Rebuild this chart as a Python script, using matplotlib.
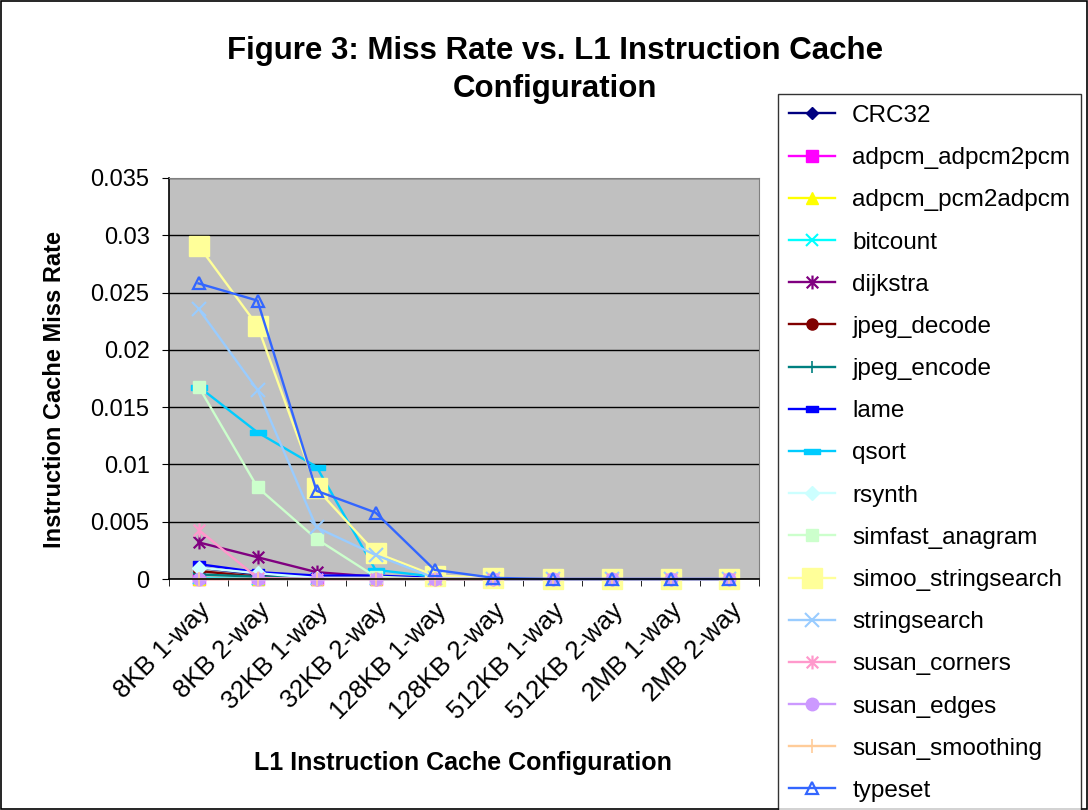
import matplotlib
matplotlib.use("Agg")
import matplotlib.pyplot as plt
from matplotlib.path import Path
from matplotlib.patches import Rectangle
import numpy as np

plt.rcParams['font.family'] = ['Liberation Sans', 'DejaVu Sans']

categories = ["8KB 1-way", "8KB 2-way", "32KB 1-way", "32KB 2-way", "128KB 1-way",
              "128KB 2-way", "512KB 1-way", "512KB 2-way", "2MB 1-way", "2MB 2-way"]

CRC32 = [0.0010, 0.0004, 0.0001, 0.0001, 0.0000, 0, 0, 0, 0, 0]
adpcm_adpcm2pcm = [0.0000, 0.0000, 0.0000, 0.0000, 0.0000, 0, 0, 0, 0, 0]
adpcm_pcm2adpcm = [0.0000, 0.0000, 0.0000, 0.0000, 0.0000, 0, 0, 0, 0, 0]
bitcount = [0.0001, 0.0000, 0.0000, 0.0000, 0.0000, 0, 0, 0, 0, 0]
dijkstra = [0.0032, 0.0019, 0.0006, 0.0002, 0.0000, 0, 0, 0, 0, 0]
jpeg_decode = [0.0007, 0.0002, 0.0001, 0.0001, 0.0000, 0, 0, 0, 0, 0]
jpeg_encode = [0.0004, 0.0002, 0.0001, 0.0000, 0.0000, 0, 0, 0, 0, 0]
lame = [0.0013, 0.0006, 0.0003, 0.0003, 0.0001, 0, 0, 0, 0, 0]
qsort = [0.0168, 0.0128, 0.0098, 0.0008, 0.0002, 0, 0, 0, 0, 0]
rsynth = [0.0010, 0.0005, 0.0001, 0.0001, 0.0000, 0, 0, 0, 0, 0]
simfast_anagram = [0.0168, 0.0080, 0.0035, 0.0002, 0.0000, 0, 0, 0, 0, 0]
simoo_stringsearch = [0.0291, 0.0221, 0.0079, 0.0023, 0.0003, 0.0001, 0, 0, 0, 0]
stringsearch = [0.0236, 0.0165, 0.0045, 0.0021, 0.0001, 0, 0, 0, 0, 0]
susan_corners = [0.0043, 0.0001, 0.0000, 0.0000, 0.0000, 0, 0, 0, 0, 0]
susan_edges = [0.0000, 0.0000, 0.0000, 0.0000, 0.0000, 0, 0, 0, 0, 0]
susan_smoothing = [0.0000, 0.0000, 0.0000, 0.0000, 0.0000, 0, 0, 0, 0, 0]
typeset = [0.0258, 0.0243, 0.0077, 0.0058, 0.0008, 0.0001, 0, 0, 0, 0]

names = ["CRC32", "adpcm_adpcm2pcm", "adpcm_pcm2adpcm", "bitcount", "dijkstra",
         "jpeg_decode", "jpeg_encode", "lame", "qsort", "rsynth", "simfast_anagram",
         "simoo_stringsearch", "stringsearch", "susan_corners", "susan_edges",
         "susan_smoothing", "typeset"]
series = [CRC32, adpcm_adpcm2pcm, adpcm_pcm2adpcm, bitcount, dijkstra, jpeg_decode,
          jpeg_encode, lame, qsort, rsynth, simfast_anagram, simoo_stringsearch,
          stringsearch, susan_corners, susan_edges, susan_smoothing, typeset]

bar_short = Path([(-0.6, -0.3), (0.6, -0.3), (0.6, 0.3), (-0.6, 0.3), (-0.6, -0.3)],
                 [Path.MOVETO, Path.LINETO, Path.LINETO, Path.LINETO, Path.CLOSEPOLY])
bar_long = Path([(-1, -0.3), (1, -0.3), (1, 0.3), (-1, 0.3), (-1, -0.3)],
                [Path.MOVETO, Path.LINETO, Path.LINETO, Path.LINETO, Path.CLOSEPOLY])
asterisk = Path([(-1, -1), (1, 1), (-1, 1), (1, -1), (0, -1.2), (0, 1.2)],
                [Path.MOVETO, Path.LINETO, Path.MOVETO, Path.LINETO, Path.MOVETO, Path.LINETO])

styles = [
    dict(color="#000080", marker="D", ms=6, mfc="#000080"),
    dict(color="#FF00FF", marker="s", ms=8, mfc="#FF00FF"),
    dict(color="#FFFF00", marker="^", ms=8, mfc="#FFFF00"),
    dict(color="#00FFFF", marker="x", ms=8, mew=1.5),
    dict(color="#800080", marker=asterisk, ms=10, mew=1.6),
    dict(color="#800000", marker="o", ms=8, mfc="#800000"),
    dict(color="#008080", marker="+", ms=9, mew=1.2),
    dict(color="#0000FF", marker=bar_short, ms=9, mfc="#0000FF"),
    dict(color="#00CCFF", marker=bar_long, ms=12, mfc="#00CCFF"),
    dict(color="#CCFFFF", marker="D", ms=7, mfc="#CCFFFF"),
    dict(color="#CCFFCC", marker="s", ms=9, mfc="#CCFFCC"),
    dict(color="#FFFF99", marker="s", ms=14, mfc="#FFFF99"),
    dict(color="#99CCFF", marker="x", ms=10, mew=1.5),
    dict(color="#FF99CC", marker=asterisk, ms=10, mew=1.6),
    dict(color="#CC99FF", marker="o", ms=9, mfc="#CC99FF"),
    dict(color="#FFCC99", marker="+", ms=10, mew=1.2),
    dict(color="#3366FF", marker="^", ms=9, mfc="none", mew=1.6),
]

fig = plt.figure(figsize=(10.88, 8.10), dpi=100)
fig.patch.set_facecolor("white")
fig.add_artist(Rectangle((0.001, 0.001), 0.998, 0.998, transform=fig.transFigure,
                         fill=False, edgecolor="black", lw=1.2))

ax = fig.add_axes([169/1088, 1 - 579/810, 590/1088, (579-178)/810])
ax.set_facecolor("#C0C0C0")
x = np.arange(len(categories))
handles = []
for name, ys, st in zip(names, series, styles):
    h, = ax.plot(x, ys, color=st["color"], lw=1.7, marker=st["marker"],
                 markersize=st["ms"], markerfacecolor=st.get("mfc", st["color"]),
                 markeredgecolor=st["color"], markeredgewidth=st.get("mew", 1.0),
                 label=name, clip_on=False)
    handles.append(h)

ax.set_xlim(-0.5, len(categories) - 0.5)
ax.set_ylim(0, 0.035)
yt = [0, 0.005, 0.01, 0.015, 0.02, 0.025, 0.03, 0.035]
ax.set_yticks(yt)
ax.set_yticklabels(["0", "0.005", "0.01", "0.015", "0.02", "0.025", "0.03", "0.035"], fontsize=17)
ax.yaxis.grid(True, color="black", lw=1.0)
ax.set_axisbelow(True)
ax.set_xticks(x)
ax.set_xticklabels(categories, fontsize=18.5, rotation=45, ha="right", va="top",
                   rotation_mode="anchor")
ax.tick_params(axis="x", length=0, pad=14)
ax.set_xticks(np.arange(len(categories) + 1) - 0.5, minor=True)
ax.tick_params(axis="x", which="minor", length=5, direction="out", color="black")
ax.tick_params(axis="y", length=5, direction="out", pad=9)
for s in ["top", "right"]:
    ax.spines[s].set_color("#808080")
for s in ["left", "bottom"]:
    ax.spines[s].set_color("black")
    ax.spines[s].set_linewidth(1.2)

fig.text(55/1088, 1 - 390/810, "Instruction Cache Miss Rate", fontsize=17,
         fontweight="bold", ha="center", va="center", rotation=90)
fig.text(463/1088, 1 - 763/810, "L1 Instruction Cache Configuration", fontsize=18,
         fontweight="bold", ha="center", va="center")
fig.text(555/1088, 1 - 70/810, "Figure 3: Miss Rate vs. L1 Instruction Cache\nConfiguration",
         fontsize=22.5, fontweight="bold", ha="center", va="center", linespacing=1.38)

leg = fig.legend(handles=handles, loc="upper left", bbox_to_anchor=(778/1088, 1 - 94/810),
                 fontsize=17.5, frameon=True, fancybox=False, edgecolor="black",
                 handlelength=1.9, handletextpad=0.7, labelspacing=0.83, borderpad=0.45,
                 borderaxespad=0, markerscale=1.0)
leg.get_frame().set_linewidth(1.0)

fig.savefig("out.png", dpi=100, facecolor="white")
